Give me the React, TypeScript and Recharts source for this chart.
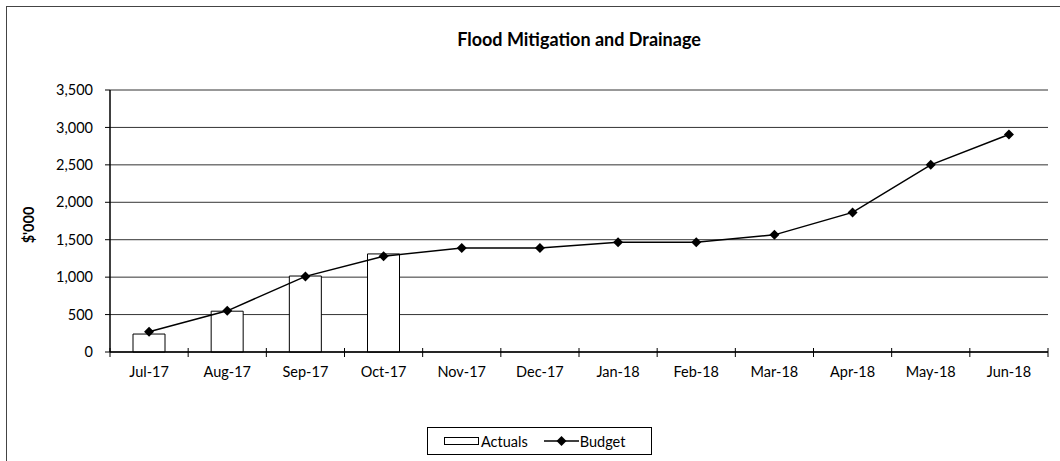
import {
  Bar,
  CartesianGrid,
  ComposedChart,
  Legend,
  Line,
  XAxis,
  YAxis,
} from "recharts";

const months = [
  "Jul-17",
  "Aug-17",
  "Sep-17",
  "Oct-17",
  "Nov-17",
  "Dec-17",
  "Jan-18",
  "Feb-18",
  "Mar-18",
  "Apr-18",
  "May-18",
  "Jun-18",
];
const actuals = [240, 545, 1015, 1310, null, null, null, null, null, null, null, null];
const budget = [270, 550, 1010, 1280, 1390, 1390, 1465, 1465, 1565, 1865, 2500, 2905];
const yTicks = [0, 500, 1000, 1500, 2000, 2500, 3000, 3500];

const data = months.map((month, i) => ({
  month,
  actuals: actuals[i],
  budget: budget[i],
}));

const FONT = "Lato, 'Open Sans', sans-serif";
const FS = 14.5;
const W = 1060;
const H = 461;
const X_AXIS_H = 30;
// plot area: x 110..1048, y 90..352
const MARGIN = { top: 90, right: 12, bottom: 109 - X_AXIS_H, left: 0 };
const Y_AXIS_W = 110;
const HALF_BAND = (W - MARGIN.right - Y_AXIS_W) / months.length / 2;

const fmt = (v: number) => v.toLocaleString("en-US");

function Diamond(props: any) {
  const { cx, cy, index } = props;
  if (cx == null || cy == null) return <g key={index} />;
  const r = 5;
  return (
    <polygon
      key={index}
      points={`${cx},${cy - r} ${cx + r},${cy} ${cx},${cy + r} ${cx - r},${cy}`}
      fill="#000"
    />
  );
}

function MonthTick(props: any) {
  const { x, y, payload, index } = props;
  const last = index === months.length - 1;
  return (
    <g>
      <line x1={x - HALF_BAND} x2={x - HALF_BAND} y1={y - 4} y2={y + 5} stroke="#000" />
      {last && <line x1={x + HALF_BAND} x2={x + HALF_BAND} y1={y - 4} y2={y + 5} stroke="#000" />}
      <text x={x} y={y + 25} textAnchor="middle" fontSize={FS} fill="#000" fontFamily={FONT}>
        {payload.value}
      </text>
    </g>
  );
}

function LegendBox() {
  return (
    <div
      style={{
        boxSizing: "border-box",
        border: "1px solid #000",
        background: "#fff",
        display: "flex",
        alignItems: "center",
        paddingLeft: 16,
        height: 28,
        width: 225,
        fontFamily: FONT,
        fontSize: FS,
        color: "#000",
      }}
    >
      <span
        style={{ display: "inline-block", boxSizing: "border-box", width: 35, height: 8, border: "1px solid #000", marginRight: 2 }}
      />
      <span style={{ marginRight: 16 }}>Actuals</span>
      <svg width={35} height={12} style={{ marginRight: 1 }}>
        <line x1={0} x2={35} y1={6} y2={6} stroke="#000" strokeWidth={1.5} />
        <polygon points="17.5,1 22.5,6 17.5,11 12.5,6" fill="#000" />
      </svg>
      <span>Budget</span>
    </div>
  );
}

export default function App() {
  return (
    <div style={{ position: "absolute", left: 0, top: 0, width: W, height: H, overflow: "hidden", background: "#fff" }}>
      <div
        style={{
          position: "absolute",
          left: 6,
          top: 6,
          width: 1100,
          height: 500,
          border: "1.5px solid #444",
        }}
      />
      <div
        style={{
          position: "absolute",
          left: 110,
          width: 938,
          top: 28,
          textAlign: "center",
          fontFamily: FONT,
          fontWeight: 700,
          fontSize: 18,
          color: "#000",
        }}
      >
        Flood Mitigation and Drainage
      </div>
      <ComposedChart width={W} height={H} data={data} margin={MARGIN} style={{ position: "absolute", left: 0, top: 0 }}>
        <CartesianGrid vertical={false} stroke="#333" strokeWidth={1} />
        <XAxis
          dataKey="month"
          height={X_AXIS_H}
          tickLine={false}
          tickSize={0}
          tickMargin={0}
          axisLine={{ stroke: "#000", strokeWidth: 1.5 }}
          tick={<MonthTick />}
          interval={0}
        />
        <YAxis
          width={Y_AXIS_W}
          domain={[0, 3500]}
          ticks={yTicks}
          tickFormatter={fmt}
          tickSize={5}
          tickMargin={12}
          tickLine={{ stroke: "#000" }}
          axisLine={{ stroke: "#000", strokeWidth: 1.5 }}
          tick={{ fill: "#000", fontSize: FS, fontFamily: FONT }}
          label={({ viewBox }: any) => {
            const cx = 28;
            const cy = viewBox.y + viewBox.height / 2 + 4;
            return (
              <text
                x={cx}
                y={cy}
                transform={`rotate(-90 ${cx} ${cy})`}
                textAnchor="middle"
                dominantBaseline="central"
                fontSize={FS}
                fontWeight={700}
                fontFamily={FONT}
                fill="#000"
              >
                $'000
              </text>
            );
          }}
        />
        <YAxis
          yAxisId="frame"
          orientation="right"
          width={0}
          domain={[0, 3500]}
          tick={false}
          tickLine={false}
          axisLine={{ stroke: "#000", strokeWidth: 1.5 }}
        />
        <Legend
          layout="vertical"
          align="center"
          verticalAlign="middle"
          content={() => <LegendBox />}
          wrapperStyle={{ position: "absolute", left: 427, top: 427, width: 225 }}
        />
        <Bar
          dataKey="actuals"
          name="Actuals"
          fill="#fff"
          stroke="#000"
          strokeWidth={1}
          barSize={32}
          isAnimationActive={false}
        />
        <Line
          dataKey="budget"
          name="Budget"
          stroke="#000"
          strokeWidth={1.5}
          dot={<Diamond />}
          activeDot={false}
          isAnimationActive={false}
        />
      </ComposedChart>
    </div>
  );
}
